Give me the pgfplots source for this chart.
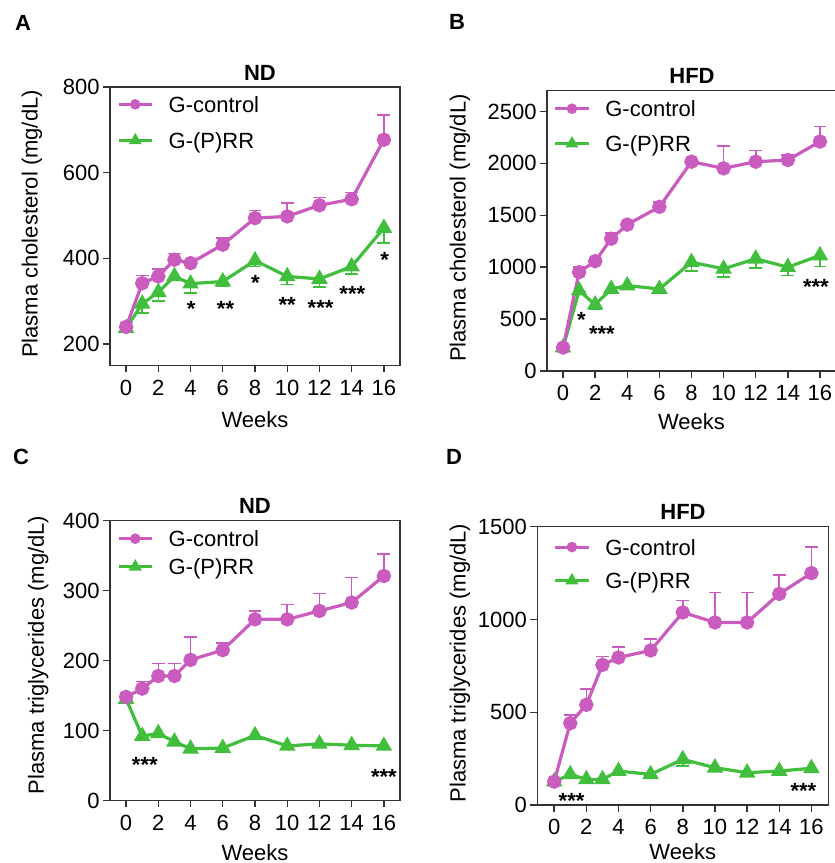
\documentclass[border=0pt]{standalone}
\usepackage{fontspec}
\setmainfont{Liberation Sans}
\usepackage{pgfplots}
\pgfplotsset{compat=1.18}

\definecolor{gpink}{RGB}{201,92,190}
\definecolor{ggreen}{RGB}{64,190,60}
\newcommand\fs{\fontsize{11}{13}\selectfont}

\tikzset{star/.style={font=\fs\bfseries, inner sep=0pt, yshift=-2.3pt},
  frame/.style={draw=black!80, line width=0.7pt}}

\pgfplotsset{
  panel/.style={
    scale only axis,
    xmin=-1, xmax=17,
    xtick={0,2,...,16},
    tick align=outside, tick pos=left,
    major tick length=3.5pt,
    axis line style={black!80, line width=0.7pt},
    every tick/.style={black!80, line width=0.7pt},
    tick label style={font=\fs},
    xticklabel style={inner sep=3.5pt},
    yticklabel style={inner sep=1.5pt},
    /pgf/number format/assume math mode=true,
    /pgf/number format/1000 sep={},
    label style={font=\fs},
    xlabel={Weeks},
    legend cell align=left,
    legend style={draw=none, fill=none, inner sep=0pt, anchor=north west,
      nodes={inner sep=0pt, text height=8pt, text depth=0pt, font=\fs},
      /tikz/every odd column/.append style={column sep=7.5pt}},
    legend image code/.code={\draw[##1,mark repeat=2,mark phase=2]
      plot coordinates {(0pt,0pt) (8.3pt,0pt) (16.7pt,0pt)};},
  },
  ctl/.style={gpink, line width=1.6pt, mark=*, mark size=2.8pt, forget plot,
    error bars/.cd, y dir=plus, y explicit,
    error bar style={line width=0.8pt, gpink},
    error mark options={gpink, line width=0.8pt, mark size=3.2pt, rotate=90}},
  prr/.style={ggreen, line width=1.6pt, mark=triangle*, mark size=3.2pt, forget plot,
    error bars/.cd, y dir=minus, y explicit,
    error bar style={line width=0.8pt, ggreen},
    error mark options={ggreen, line width=0.8pt, mark size=3.2pt, rotate=90}},
  ctlleg/.style={gpink, line width=1.6pt, mark=*, mark size=1.8pt},
  prrleg/.style={ggreen, line width=1.6pt, mark=triangle*, mark size=2.2pt},
}

\begin{document}
\begin{tikzpicture}
\useasboundingbox (0,0) rectangle (417.5pt,431.5pt);

% ---------- A: cholesterol, ND
\begin{axis}[panel, name=pA, at={(55pt,248.75pt)}, anchor=south west,
  width=145pt, height=139.25pt,
  ymin=150, ymax=800, ytick={200,400,600,800},
  ylabel={Plasma cholesterol (mg/dL)},
  ylabel style={at={(axis description cs:-0.269,0.508)}, anchor=center},
  xlabel style={at={(axis description cs:0.5,-0.196)}, anchor=center},
  legend style={at={(axis description cs:0.023,1)}, yshift=-4.5pt, row sep=10pt}]
\addlegendimage{ctlleg}\addlegendentry{G-control}
\addlegendimage{prrleg}\addlegendentry{G-(P)RR}
\addplot[prr] table[x=x, y=y, y error=e] {
x y e
0 237 5
1 294 22
2 321 21
3 358 5
4 341 22
6 346 11
8 395 14
10 358 19
12 352 19
14 381 17
16 471 35
};
\addplot[ctl] table[x=x, y=y, y error=e] {
x y e
0 240 10
1 342 18
2 358 17
3 397 14
4 389 5
6 432 15
8 494 18
10 498 31
12 524 18
14 538 16
16 677 58
};
\node[star] at (axis cs:4.04,292) {*};
\node[star] at (axis cs:6.17,292) {**};
\node[star] at (axis cs:8.03,354) {*};
\node[star] at (axis cs:10.0,303) {**};
\node[star] at (axis cs:12.07,294) {***};
\node[star] at (axis cs:14.04,327) {***};
\node[star] at (axis cs:16.05,406) {*};
\end{axis}
\draw[frame] (pA.south west) rectangle (pA.north east);

% ---------- B: cholesterol, HFD
\begin{axis}[panel, name=pB, at={(273.5pt,246pt)}, anchor=south west,
  width=144.5pt, height=140.15pt,
  ymin=0, ymax=2700, ytick={0,500,1000,1500,2000,2500},
  ylabel={Plasma cholesterol (mg/dL)},
  ylabel style={at={(axis description cs:-0.301,0.51)}, anchor=center},
  xlabel style={at={(axis description cs:0.5,-0.182)}, anchor=center},
  legend style={at={(axis description cs:0.022,1)}, yshift=-4.8pt, row sep=9.5pt}]
\addlegendimage{ctlleg}\addlegendentry{G-control}
\addlegendimage{prrleg}\addlegendentry{G-(P)RR}
\addplot[prr] table[x=x, y=y, y error=e] {
x y e
0 226 5
1 774 10
2 639 42
3 790 42
4 823 33
6 790 32
8 1048 87
10 984 81
12 1081 87
14 1000 81
16 1113 107
};
\addplot[ctl] table[x=x, y=y, y error=e] {
x y e
0 226 10
1 952 48
2 1058 22
3 1274 55
4 1410 25
6 1581 48
8 2016 14
10 1952 216
12 2016 107
14 2032 49
16 2210 145
};
\node[star] at (axis cs:1.14,532) {*};
\node[star] at (axis cs:2.42,403) {***};
\node[star] at (axis cs:15.75,855) {***};
\end{axis}
\draw[frame] (pB.south west) rectangle (pB.north east);

% ---------- C: triglycerides, ND
\begin{axis}[panel, name=pC, at={(55pt,31.25pt)}, anchor=south west,
  width=145pt, height=139.9pt,
  ymin=0, ymax=400, ytick={0,100,200,300,400},
  ylabel={Plasma triglycerides (mg/dL)},
  ylabel style={at={(axis description cs:-0.248,0.52)}, anchor=center},
  xlabel style={at={(axis description cs:0.5,-0.188)}, anchor=center},
  legend style={at={(axis description cs:0.023,1)}, yshift=-4.8pt, row sep=6pt}]
\addlegendimage{ctlleg}\addlegendentry{G-control}
\addlegendimage{prrleg}\addlegendentry{G-(P)RR}
\addplot[prr] table[x=x, y=y, y error=e] {
x y e
0 145 3
1 92 3
2 96 3
3 84 3
4 74 3
6 75 3
8 93 3
10 78 3
12 81 3
14 79 3
16 78 3
};
\addplot[ctl] table[x=x, y=y, y error=e] {
x y e
0 148 6
1 160 10
2 178 18
3 178 18
4 201 33
6 215 10
8 259 12
10 259 21
12 271 25
14 283 36
16 321 31
};
\node[star] at (axis cs:1.16,57.5) {***};
\node[star] at (axis cs:16,40.7) {***};
\end{axis}
\draw[frame] (pC.south west) rectangle (pC.north east);

% ---------- D: triglycerides, HFD
\begin{axis}[panel, name=pD, at={(268.65pt,29pt)}, anchor=south west,
  width=145.5pt, height=139.15pt,
  xmin=-1.05, xmax=17.05,
  ymin=0, ymax=1500, ytick={0,500,1000,1500},
  ylabel={Plasma triglycerides (mg/dL)},
  ylabel style={at={(axis description cs:-0.266,0.51)}, anchor=center},
  xlabel style={at={(axis description cs:0.5,-0.169)}, anchor=center},
  legend style={at={(axis description cs:0.055,1)}, yshift=-6pt, row sep=8.7pt}]
\addlegendimage{ctlleg}\addlegendentry{G-control}
\addlegendimage{prrleg}\addlegendentry{G-(P)RR}
\addplot[prr] table[x=x, y=y, y error=e] {
x y e
0 126 5
1 165 10
2 138 10
3 138 10
4 183 10
6 165 10
8 246 36
10 201 10
12 174 10
14 183 10
16 198 10
};
\addplot[ctl] table[x=x, y=y, y error=e] {
x y e
0 126 10
1 441 45
2 540 84
3 755 45
4 795 56
6 833 61
8 1038 65
10 984 162
12 984 162
14 1138 103
16 1250 140
};
\node[star] at (axis cs:1.08,45) {***};
\node[star] at (axis cs:15.5,102.5) {***};
\end{axis}
\draw[frame] (pD.south west) rectangle (pD.north east);

% ---------- panel letters and titles
\node[font=\fs\bfseries] at (11.5pt,420pt) {A};
\node[font=\fs\bfseries] at (228.5pt,420.5pt) {B};
\node[font=\fs\bfseries] at (10.5pt,203pt) {C};
\node[font=\fs\bfseries] at (227pt,203pt) {D};
\node[font=\fs\bfseries] at (130pt,395.25pt) {ND};
\node[font=\fs\bfseries] at (346pt,393.5pt) {HFD};
\node[font=\fs\bfseries] at (127.5pt,178.5pt) {ND};
\node[font=\fs\bfseries] at (341.5pt,175.5pt) {HFD};
\end{tikzpicture}
\end{document}
